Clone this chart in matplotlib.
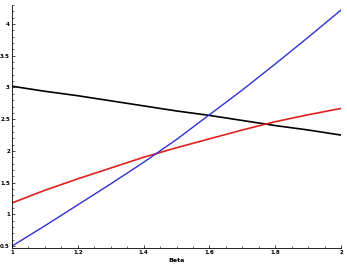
import matplotlib
matplotlib.use("Agg")
import matplotlib.pyplot as plt
from matplotlib.ticker import MultipleLocator

beta = [1.0, 1.1, 1.2, 1.3, 1.4, 1.5, 1.6, 1.7, 1.8, 1.9, 2.0]
blue_vals = [0.5, 0.82, 1.15, 1.48, 1.82, 2.18, 2.57, 2.96, 3.37, 3.79, 4.22]
red_vals = [1.18, 1.38, 1.56, 1.73, 1.90, 2.05, 2.19, 2.33, 2.46, 2.57, 2.67]
black_vals = [3.02, 2.94, 2.87, 2.79, 2.71, 2.63, 2.56, 2.48, 2.40, 2.33, 2.25]

fig = plt.figure(figsize=(3.47, 2.71), dpi=100)
ax = fig.add_axes([12/347, 23/271, 329/347, 243/271])

ax.plot(beta, black_vals, color="black", lw=1.2)
ax.plot(beta, red_vals, color="#e02020", lw=1.2)
ax.plot(beta, blue_vals, color="#3030d0", lw=1.0)

ax.set_xlim(1, 2)
ax.set_ylim(0.47, 4.3)
for s in ["top", "right"]:
    ax.spines[s].set_visible(False)
ax.spines["left"].set_linewidth(0.6)
ax.spines["bottom"].set_linewidth(0.6)

ax.xaxis.set_minor_locator(MultipleLocator(0.05))
ax.yaxis.set_minor_locator(MultipleLocator(0.1))
ax.set_xticks([1, 1.2, 1.4, 1.6, 1.8, 2])
ax.set_xticklabels(["1", "1.2", "1.4", "1.6", "1.8", "2"])
ax.set_yticks([0.5, 1, 1.5, 2, 2.5, 3, 3.5, 4])
ax.set_yticklabels(["0.5", "1", "1.5", "2", "2.5", "3", "3.5", "4"])
ax.tick_params(which="major", direction="in", length=2.5, width=0.5, labelsize=4, pad=1.5)
ax.tick_params(which="minor", direction="in", length=1.3, width=0.4)
for lab in ax.get_xticklabels() + ax.get_yticklabels():
    lab.set_fontweight("bold")

ax.set_xlabel("Beta", fontsize=4.5, fontweight="bold", labelpad=2)

fig.savefig("out.png", dpi=100)
